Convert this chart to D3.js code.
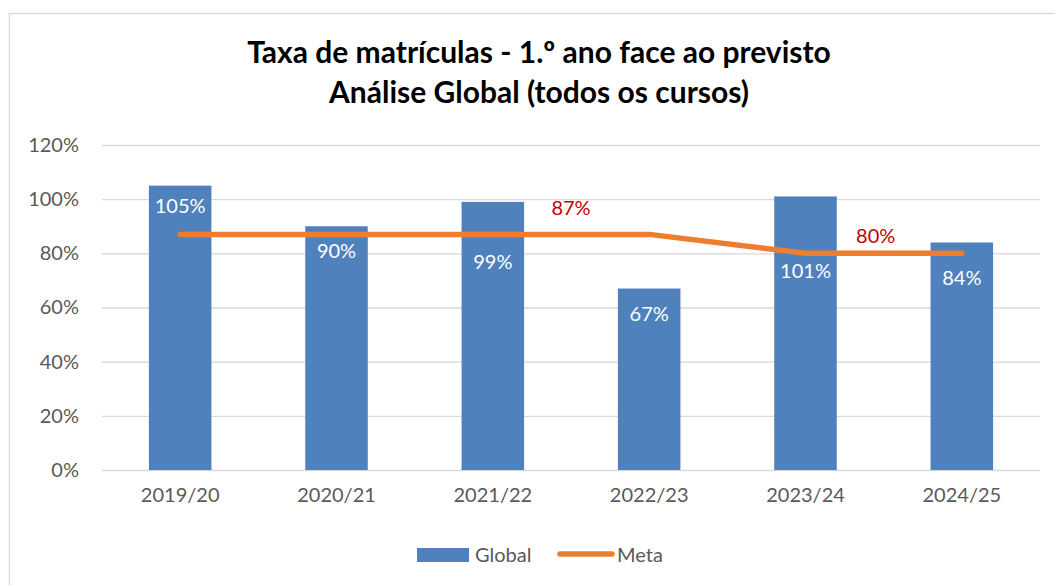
<!DOCTYPE html>
<html>
<head>
<meta charset="utf-8">
<script src="https://cdn.jsdelivr.net/npm/d3@7"></script>
<style>
  body { margin: 0; background: #fff; }
  svg { display: block; font-family: Lato, "Noto Sans", sans-serif; }
</style>
</head>
<body>
<svg id="chart" width="1055" height="585"></svg>
<script>
// data
const years = ['2019/20', '2020/21', '2021/22', '2022/23', '2023/24', '2024/25'];
const globalValues = [105, 90, 99, 67, 101, 84];
const metaValues = [87, 87, 87, 87, 80, 80];
const yTicks = [0, 20, 40, 60, 80, 100, 120];
// which meta points get a red label, placed between two categories
const metaLabels = [{ from: 2, to: 3, value: 87 }, { from: 4, to: 5, value: 80 }];
// hand-set nudges from the original: bar labels (px below bar top), meta labels (px dx, dy)
const labelDy = [20, 25, 60, 25, 75, 35];
const metaLabelDx = [0, -8];
const metaLabelDy = [-19, -10];

const svg = d3.select('#chart');

svg.append('rect')
    .attr('x', 9.5).attr('y', 13.5)
    .attr('width', 1100).attr('height', 700)
    .attr('fill', '#fff')
    .attr('stroke', '#d9d9d9')
    .attr('stroke-width', 1.3);

const x = d3.scaleBand()
    .domain(years)
    .range([102, 1040])
    .paddingInner(0.6)
    .paddingOuter(0.3);

const y = d3.scaleLinear()
    .domain([0, 120])
    .range([470, 145]);

// title
const title = svg.append('text')
    .attr('text-anchor', 'middle')
    .attr('font-weight', 'bold')
    .attr('font-size', 30)
    .attr('fill', '#000');
title.append('tspan').attr('x', 539).attr('y', 63).text('Taxa de matrículas - 1.º ano face ao previsto');
title.append('tspan').attr('x', 539).attr('y', 103).text('Análise Global (todos os cursos)');

// y axis with gridlines
const yAxis = svg.append('g')
    .attr('transform', 'translate(102,0)')
    .call(d3.axisLeft(y)
        .tickValues(yTicks)
        .tickSize(-938)
        .tickPadding(23)
        .tickFormat(d => d + '%'));
yAxis.select('.domain').remove();
yAxis.selectAll('line').attr('stroke', '#d9d9d9').attr('stroke-width', 1.3);
yAxis.selectAll('text')
    .attr('fill', '#595959')
    .attr('font-size', 20)
    .attr('font-family', 'Lato, sans-serif');

// x axis
const xAxis = svg.append('g')
    .attr('transform', 'translate(0,470)')
    .call(d3.axisBottom(x).tickSize(0).tickPadding(18));
xAxis.select('.domain').remove();
xAxis.selectAll('text')
    .attr('fill', '#595959')
    .attr('font-size', 20)
    .attr('font-family', 'Lato, sans-serif');

// bars
svg.append('g')
    .selectAll('rect')
    .data(globalValues)
    .join('rect')
    .attr('x', (d, i) => x(years[i]))
    .attr('y', d => y(d))
    .attr('width', x.bandwidth())
    .attr('height', d => y(0) - y(d))
    .attr('fill', '#4f81bd');

// meta line
const cx = (i) => x(years[i]) + x.bandwidth() / 2;
const line = d3.line()
    .x((d, i) => cx(i))
    .y(d => y(d));
svg.append('path')
    .datum(metaValues)
    .attr('d', line)
    .attr('fill', 'none')
    .attr('stroke', '#ed7d31')
    .attr('stroke-width', 5.5)
    .attr('stroke-linecap', 'round')
    .attr('stroke-linejoin', 'round');

// bar value labels
svg.append('g')
    .selectAll('text')
    .data(globalValues)
    .join('text')
    .attr('x', (d, i) => cx(i))
    .attr('y', (d, i) => y(d) + labelDy[i] + 7)
    .attr('text-anchor', 'middle')
    .attr('fill', '#fff')
    .attr('font-size', 20)
    .text(d => d + '%');

// meta labels
svg.append('g')
    .selectAll('text')
    .data(metaLabels)
    .join('text')
    .attr('x', (d, i) => (cx(d.from) + cx(d.to)) / 2 + metaLabelDx[i])
    .attr('y', (d, i) => y(d.value) + metaLabelDy[i])
    .attr('text-anchor', 'middle')
    .attr('fill', '#c00000')
    .attr('font-size', 20)
    .text(d => d.value + '%');

// legend
const legend = svg.append('g');
legend.append('rect')
    .attr('x', 417).attr('y', 548)
    .attr('width', 52).attr('height', 14)
    .attr('fill', '#4f81bd');
legend.append('text')
    .attr('x', 475).attr('y', 562)
    .attr('fill', '#595959')
    .attr('font-size', 20)
    .text('Global');
legend.append('line')
    .attr('x1', 560).attr('x2', 612)
    .attr('y1', 554).attr('y2', 554)
    .attr('stroke', '#ed7d31')
    .attr('stroke-width', 5.5)
    .attr('stroke-linecap', 'round');
legend.append('text')
    .attr('x', 617).attr('y', 562)
    .attr('fill', '#595959')
    .attr('font-size', 20)
    .text('Meta');
</script>
</body>
</html>
